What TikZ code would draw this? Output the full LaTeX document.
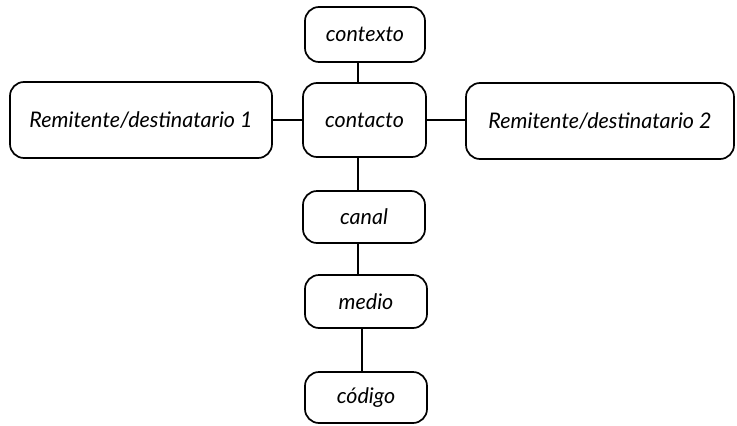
\documentclass[tikz,border=0pt]{standalone}
\usepackage{fontspec}
\setmainfont{Lato}
\begin{document}
\begin{tikzpicture}[x=1pt,y=-1pt,
  box/.style={draw, line width=1.7pt, rounded corners=14pt, inner sep=0pt,
    font=\fontsize{21.5}{24}\selectfont\itshape},
  link/.style={line width=1.7pt}]
  \useasboundingbox (0,0) rectangle (737,426);
  % boxes
  \node[box, minimum width=120, minimum height=55] (contexto) at (365,34.5) {contexto};
  \node[box, minimum width=123, minimum height=74] (contacto) at (364.5,120) {contacto};
  \node[box, minimum width=262, minimum height=76] (rem1) at (141,120) {Remitente/destinatario 1};
  \node[box, minimum width=268, minimum height=76] (rem2) at (600,121) {Remitente/destinatario 2};
  \node[box, minimum width=122, minimum height=52] (canal) at (364,217) {canal};
  \node[box, minimum width=122, minimum height=53] (medio) at (366,301.5) {medio};
  \node[box, minimum width=122, minimum height=51] (codigo) at (366,397.5) {código};
  % connectors
  \draw[link] ([xshift=-7]contexto.south) -- ([xshift=-7]contexto.south |- contacto.north);
  \draw[link] (rem1.east) -- (contacto.west);
  \draw[link] (contacto.east) -- (rem2.west |- contacto.east);
  \draw[link] ([xshift=-6.5]contacto.south) -- ([xshift=-6.5]contacto.south |- canal.north);
  \draw[link] ([xshift=-6]canal.south) -- ([xshift=-6]canal.south |- medio.north);
  \draw[link] ([xshift=-4]medio.south) -- ([xshift=-4]medio.south |- codigo.north);
\end{tikzpicture}
\end{document}
